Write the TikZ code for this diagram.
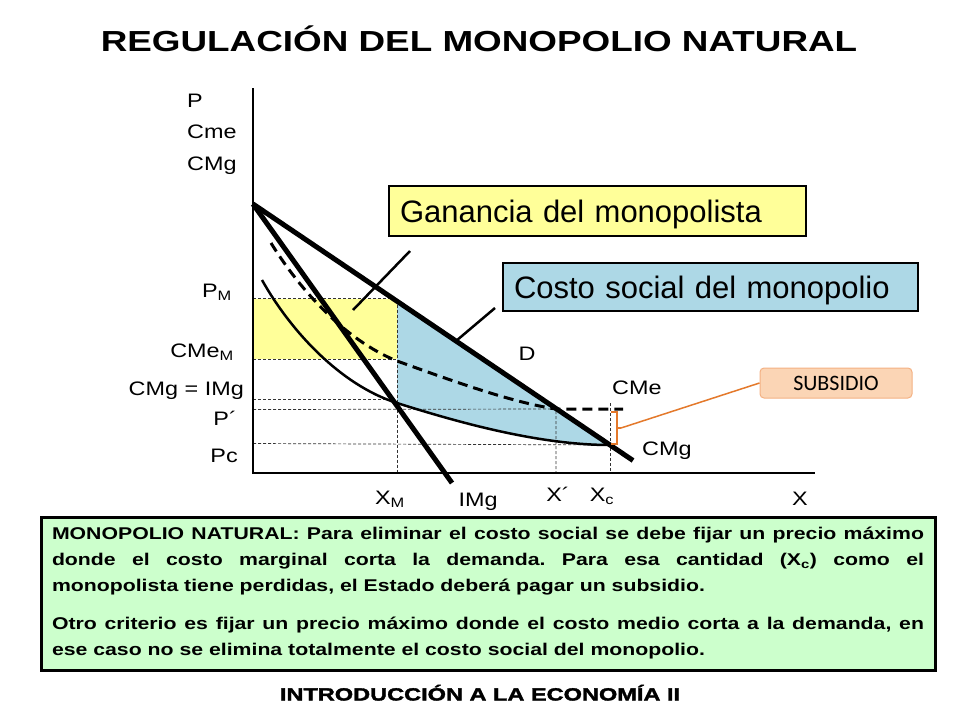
\documentclass[tikz,border=0pt]{standalone}
\usepackage{fontspec}
\setmainfont{Liberation Sans}
\newfontfamily\titfont[FakeStretch=1.27]{Liberation Sans Bold}
\newfontfamily\labfont[FakeStretch=1.2]{Liberation Sans}
\newfontfamily\notafont[FakeStretch=1.25]{Liberation Sans Bold}
\newfontfamily\piefont[FakeStretch=1.33,FakeBold=2]{Liberation Sans Bold}
\newfontfamily\subfont{Carlito}
\usetikzlibrary{calc}
\frenchspacing

\definecolor{amarillo}{HTML}{FFFF99}
\definecolor{celeste}{HTML}{ADD8E6}
\definecolor{verdeclaro}{HTML}{CCFFCC}
\definecolor{naranja}{HTML}{E4792B}
\definecolor{durazno}{HTML}{FBD5B5}
\definecolor{bordedurazno}{HTML}{F4B183}

\tikzset{
	guia/.style={line width=0.7pt, dash pattern=on 3pt off 2pt, black!80},
	etiq/.style={inner sep=0pt, text height=14pt, text depth=0pt, font=\labfont\fontsize{19.5}{23}\selectfont},
	rotulo/.style={draw, line width=2pt, anchor=north west, inner xsep=11pt, inner ysep=0pt, align=left, text height=22pt, text depth=0pt, font=\fontsize{31}{36}\selectfont}
}

\begin{document}
\begin{tikzpicture}[x=1pt, y=-1pt]

						\fill[white] (0,0) rectangle (960,720);
						\useasboundingbox (0,0) rectangle (960,720);

						\coordinate(O) at (253, 473);
						\coordinate(ejeY) at (253, 88);
						\coordinate(ejeX) at (815, 473);
						\coordinate(dA) at (253, 204);
						\coordinate(dB) at (633, 460.5);
						\coordinate(imgB) at (452, 483);
						\coordinate(pm) at (397, 298.5);
						\coordinate(cmem) at (397, 359);
						\coordinate(xm) at (397, 473);
						\coordinate(pp) at (556, 409);
						\coordinate(xp) at (556, 473);
						\coordinate(pc) at (610, 445);
						\coordinate(xc) at (610, 473);

						\node[anchor=center, text height=21pt, text depth=0pt, font=\titfont\fontsize{29}{34}\selectfont] (titulo) at (479, 41) {REGULACIÓN DEL MONOPOLIO NATURAL};

						\fill[amarillo] (253, 298.5) rectangle (cmem);
						\begin{scope}
							\clip (397, 250) rectangle (700, 480);
							\fill[celeste] (262, 280) .. controls (290, 330) and (340, 385) .. (397, 403) .. controls (460, 423) and (540, 445) .. (pc) -- (dA) -- cycle;
						\end{scope}

						\draw[guia] (253, 298.5)--(pm)--(xm);
						\draw[guia] (253, 359)--(cmem);
						\draw[guia] (253, 399)--(392, 399);
						\draw[guia] (253, 409.5)--(pp)--(xp);
						\draw[guia] (253, 443.5)--(pc);
						\draw[guia] (610, 403)--(xc);

						\draw[line width=1.2pt] (ejeY)--(O)--(ejeX);

						\draw[line width=3pt, dash pattern=on 10pt off 6pt] (271, 243) .. controls (300, 290) and (345, 340) .. (397, 361) .. controls (450, 380) and (510, 402) .. (pp)--(623, 409);
						\draw[line width=2.5pt] (262, 280) .. controls (290, 330) and (340, 385) .. (397, 403) .. controls (460, 423) and (540, 445) .. (pc);
						\draw[line width=5pt] (dA)--(dB);
						\draw[line width=5pt] (dA)--(imgB);

						\node[etiq, anchor=west] (lP) at (187, 100) {P};
						\node[etiq, anchor=west] (lCme) at (187, 131) {Cme};
						\node[etiq, anchor=west] (lCMg) at (187, 163) {CMg};
						\node[etiq, anchor=east] (lPM) at (232, 290) {P\textsubscript{M}};
						\node[etiq, anchor=east] (lCMeM) at (234, 350) {CMe\textsubscript{M}};
						\node[etiq, anchor=east] (lIgual) at (244, 388) {CMg = IMg};
						\node[etiq, anchor=east] (lPp) at (237, 418) {P´};
						\node[etiq, anchor=east] (lPc) at (238, 455) {Pc};
						\node[etiq] (lXM) at (390, 497) {X\textsubscript{M}};
						\node[etiq] (lIMg) at (478, 499) {IMg};
						\node[etiq] (lXp) at (558, 494) {X´};
						\node[etiq] (lXc) at (602, 494) {X\textsubscript{c}};
						\node[etiq] (lX) at (800, 498) {X};
						\node[etiq] (lD) at (527, 353) {D};
						\node[etiq, anchor=west] (lCMe) at (612, 387) {CMe};
						\node[etiq, anchor=west] (lCMg2) at (642, 448) {CMg};

						\node[rotulo, fill=amarillo, text width=395pt, minimum height=50pt] (ganancia) at (388, 185) {Ganancia del monopolista};
						\node[rotulo, fill=celeste, text width=393pt, minimum height=48pt] (costo) at (502, 262) {Costo social del monopolio};

						\coordinate(g1) at (410, 251);
						\coordinate(g2) at (353, 310);
						\coordinate(c1) at (495, 308);
						\coordinate(c2) at (456, 341);
						\draw[line width=2.5pt] (g1)--(g2);
						\draw[line width=2.5pt] (c1)--(c2);

						\node[draw=bordedurazno, fill=durazno, rounded corners=4pt, line width=1pt, minimum width=152pt, minimum height=30pt, inner sep=0pt, font=\subfont\fontsize{22}{24}\selectfont] (subsidio) at (836, 383) {SUBSIDIO};
						\coordinate(llave) at (621, 428);
						\draw[naranja, line width=2pt] (611, 412)--(617, 412)--(617, 444)--(611, 444);
						\draw[naranja, line width=2pt] (617, 428)--(llave);
						\draw[naranja, line width=1.5pt] (subsidio.west)--(llave);

						\node[draw, fill=verdeclaro, line width=3pt, text width=872pt, inner xsep=11pt, inner ysep=0pt, minimum height=153pt, align=justify, font=\notafont\fontsize{17}{26}\selectfont] (nota) at (488, 593.5) {\hyphenpenalty=10000 MONOPOLIO NATURAL: Para eliminar el costo social se debe fijar un precio máximo\linebreak donde el costo marginal corta la demanda. Para esa cantidad (X\textsubscript{c}) como el\linebreak monopolista tiene perdidas, el Estado deberá pagar un subsidio.\par\vspace{12pt}Otro criterio es fijar un precio máximo donde el costo medio corta a la demanda, en\linebreak ese caso no se elimina totalmente el costo social del monopolio.};

						\node[text height=13pt, text depth=0pt, font=\piefont\fontsize{17.7}{20}\selectfont] (pie) at (480, 694) {INTRODUCCIÓN A LA ECONOMÍA II};

					\end{tikzpicture}
\end{document}
